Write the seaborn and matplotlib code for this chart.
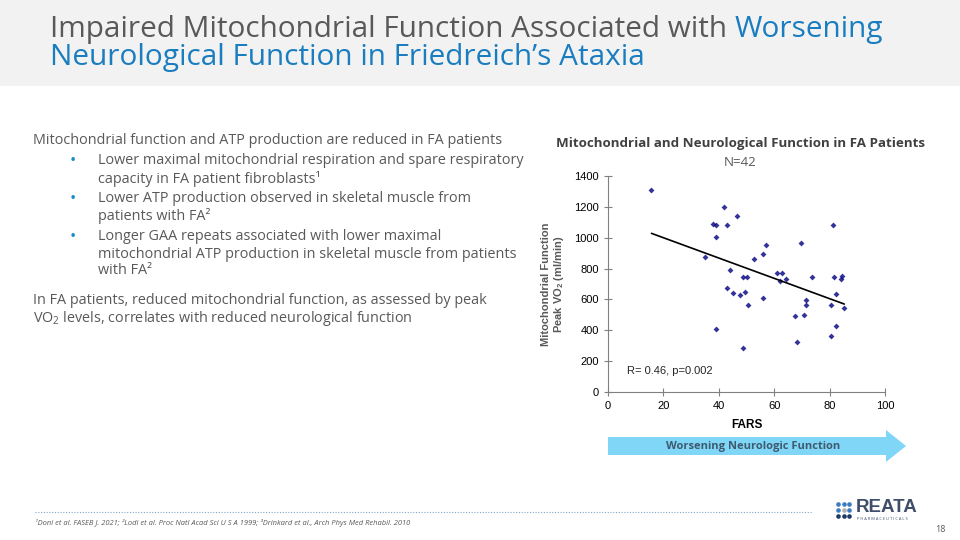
import numpy as np
import pandas as pd
import seaborn as sns
import matplotlib
matplotlib.use("Agg")
import matplotlib.pyplot as plt
from matplotlib.patches import Rectangle, FancyArrow

# data (FARS score vs peak VO2)
fars = [15.7, 41.9, 46.7, 38.0, 38.9, 42.9, 38.9, 81.2, 34.9, 69.5,
        57.0, 56.0, 52.7, 44.0, 61.0, 62.7, 64.2, 62.0, 48.8, 50.0,
        73.6, 81.7, 84.0, 84.3, 42.9, 45.1, 47.8, 49.5, 50.5, 56.0,
        71.3, 71.3, 82.2, 80.6, 85.3, 67.6, 70.7, 38.9, 82.2, 80.6,
        68.1, 48.9]
vo2 = [1310, 1200, 1142, 1090, 1083, 1081, 1006, 1083, 872, 963,
       950, 896, 862, 793, 773, 773, 734, 717, 745, 743,
       747, 747, 730, 754, 672, 642, 629, 646, 562, 612,
       594, 562, 633, 566, 545, 493, 502, 409, 431, 362,
       325, 286]
x_ticks = [0, 20, 40, 60, 80, 100]
y_ticks = [0, 200, 400, 600, 800, 1000, 1200, 1400]

df = pd.DataFrame({"FARS": fars, "VO2": vo2})

sns.set_style("ticks")
plt.rcParams['font.family'] = ['Open Sans', 'DejaVu Sans']
plt.rcParams['mathtext.fontset'] = 'custom'
plt.rcParams['mathtext.rm'] = 'Open Sans'
plt.rcParams['mathtext.bf'] = 'Liberation Sans:bold'

GRAY = '#595959'
BLUE = '#1a7dbf'

fig = plt.figure(figsize=(9.6, 5.4), dpi=100)

# background layer in pixel coordinates
bg = fig.add_axes([0, 0, 1, 1], zorder=0)
bg.set_xlim(0, 960)
bg.set_ylim(540, 0)
bg.axis('off')
bg.add_patch(Rectangle((0, 0), 960, 86, color='#f2f2f2', lw=0))
bg.plot([35, 812], [512, 512], ls=(0, (1, 1.5)), color='#7fa7c9', lw=0.8)
bg.add_patch(FancyArrow(608, 446, 278, 0, width=18, head_width=32, head_length=20,
                        length_includes_head=False, color='#7fd6f7', lw=0))
bg.text(753, 446, "Worsening Neurologic Function", ha='center', va='center',
        fontsize=8, fontweight='bold', color='#3e5a6e')

# title
TS = 21.4
t1 = bg.text(50, 29, "Impaired Mitochondrial Function Associated with ", fontsize=TS,
             color=GRAY, va='center', ha='left')
fig.canvas.draw()
bb = t1.get_window_extent()
bg.text(50 + bb.width, 29, "Worsening", fontsize=TS, color=BLUE, va='center', ha='left')
bg.text(50, 57, "Neurological Function in Friedreich\u2019s Ataxia", fontsize=TS,
        color=BLUE, va='center', ha='left')

# body text
body = [
    (33, 140, "Mitochondrial function and ATP production are reduced in FA patients"),
    (98, 161, "Lower maximal mitochondrial respiration and spare respiratory"),
    (98, 179, "capacity in FA patient fibroblasts\u00b9"),
    (98, 199, "Lower ATP production observed in skeletal muscle from"),
    (98, 216, "patients with FA\u00b2"),
    (98, 237, "Longer GAA repeats associated with lower maximal"),
    (98, 254, "mitochondrial ATP production in skeletal muscle from patients"),
    (98, 271, "with FA\u00b2"),
    (33, 300, "In FA patients, reduced mitochondrial function, as assessed by peak"),
    (33, 318, "VO$_{2}$ levels, correlates with reduced neurological function"),
]
for x, y, s in body:
    bg.text(x, y, s, fontsize=10.4, color=GRAY, va='center', ha='left')
for y in [161, 199, 237]:
    bg.text(73, y, "\u2022", fontsize=12, color='#1a8ccc', va='center', ha='center')

# footer
bg.text(35, 523, "\u00b9Doni et al. FASEB J. 2021; \u00b2Lodi et al. Proc Natl Acad Sci U S A 1999; "
        "\u00b3Drinkard et al., Arch Phys Med Rehabil. 2010",
        fontsize=5.4, style='italic', color=GRAY, va='center', ha='left')
bg.text(946, 530, "18", fontsize=6.5, color=GRAY, va='center', ha='right')

# logo
dot_cols = [['#3b7cc4', '#3b7cc4', '#3b7cc4'],
            ['#3b7cc4', '#b0b0b0', '#3b7cc4'],
            ['#1f3a68', '#1f3a68', '#1f3a68']]
for r in range(3):
    for c in range(3):
        bg.scatter(838 + c * 5.5, 504 + r * 6, s=11, color=dot_cols[r][c], lw=0)
bg.text(856, 508, "REATA", fontsize=13.5, fontweight='bold', color='#3f4f6a',
        va='center', ha='left', family='Liberation Sans')
bg.text(857, 519, "P H A R M A C E U T I C A L S", fontsize=2.9, color='#3f4f6a',
        va='center', ha='left')

# chart
bg.text(740, 143, "Mitochondrial and Neurological Function in FA Patients",
        fontsize=9.6, fontweight='bold', color='#404040', ha='center', va='center')
bg.text(740, 162, "N=42", fontsize=9.6, color=GRAY, ha='center', va='center')

ax = fig.add_axes([608 / 960, 1 - 392 / 540, 277 / 960, 216 / 540], zorder=1)
ax.patch.set_alpha(0)
sns.regplot(data=df, x="FARS", y="VO2", ax=ax, ci=None, truncate=True, marker='D',
            scatter_kws=dict(s=9, color='#000080', linewidths=0),
            line_kws=dict(color='black', lw=1.2))
ax.set_xlim(0, 100)
ax.set_ylim(0, 1400)
ax.set_xticks(x_ticks)
ax.set_yticks(y_ticks)
sns.despine(ax=ax)
for sp in ['left', 'bottom']:
    ax.spines[sp].set_color('#808080')
    ax.spines[sp].set_linewidth(0.8)
ax.tick_params(direction='inout', length=6, width=0.8, color='#808080',
               labelsize=8, labelcolor='black')
for lab in ax.get_xticklabels() + ax.get_yticklabels():
    lab.set_family('Liberation Sans')
ax.set_xlabel("FARS", fontsize=8.5, fontweight='bold', family='Liberation Sans',
              color='black', labelpad=6)
ax.set_ylabel("Mitochondrial Function\nPeak VO$_\\mathbf{2}$ (ml/min)", fontsize=8,
              fontweight='bold', family='Liberation Sans', color=GRAY, labelpad=6,
              linespacing=1.1)
ax.text(0.068, 0.097, "R= 0.46, p=0.002", transform=ax.transAxes, fontsize=8,
        family='Liberation Sans', va='center', ha='left')

fig.savefig("out.png", dpi=100)
